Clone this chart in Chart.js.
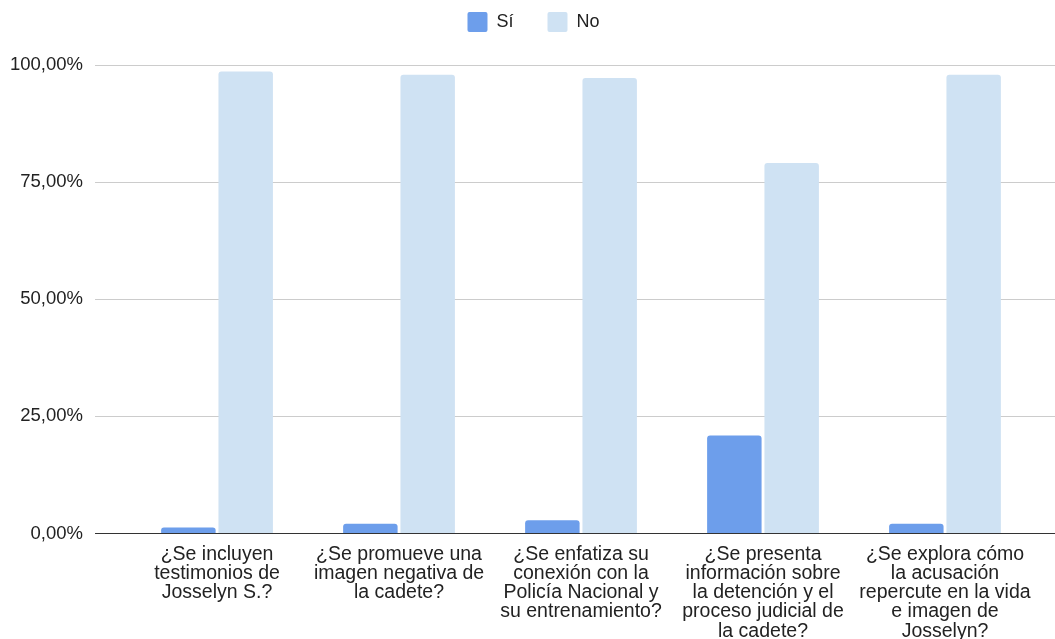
<!DOCTYPE html>
<html>
<head>
<meta charset="utf-8">
<script src="https://cdn.jsdelivr.net/npm/chart.js@4.4.1/dist/chart.umd.min.js"></script>
<style>
  html, body { margin: 0; padding: 0; background: #fff; }
  #wrap { width: 1055px; height: 639px; position: relative; }
</style>
</head>
<body>
<div id="wrap"><canvas id="chart"></canvas></div>
<script>
const categories = [
    ['¿Se incluyen', 'testimonios de', 'Josselyn S.?'],
    ['¿Se promueve una', 'imagen negativa de', 'la cadete?'],
    ['¿Se enfatiza su', 'conexión con la', 'Policía Nacional y', 'su entrenamiento?'],
    ['¿Se presenta', 'información sobre', 'la detención y el', 'proceso judicial de', 'la cadete?'],
    ['¿Se explora cómo', 'la acusación', 'repercute en la vida', 'e imagen de', 'Josselyn?']
];
const siValues = [1.3, 2.1, 2.8, 20.9, 2.1];
const noValues = [98.6, 97.9, 97.2, 79.1, 97.9];
const yTicks = [0, 25, 50, 75, 100];

const FONT = '"Liberation Sans", Arial, sans-serif';
const TEXT = '#222222';

function pct(v) {
    return v.toFixed(2).replace('.', ',') + '%';
}

function gridColor(ctx) {
    return ctx.tick && ctx.tick.value === 0 ? '#333333' : '#cccccc';
}

// extra room under the legend, and nudge it right like the original
const legendTweak = {
    id: 'legendTweak',
    beforeInit(chart) {
        const legend = chart.legend;
        const fit = legend.fit;
        legend.fit = function () {
            fit.call(this);
            this.height += 23;
        };
        const draw = legend.draw;
        legend.draw = function () {
            const c = this.ctx;
            c.save();
            c.translate(7, 0);
            draw.apply(this, arguments);
            c.restore();
        };
    }
};

Chart.defaults.font.family = FONT;
Chart.defaults.color = TEXT;

new Chart(document.getElementById('chart'), {
    type: 'bar',
    data: {
        labels: categories,
        datasets: [
            { label: 'Sí', data: siValues, backgroundColor: '#6d9eeb', borderRadius: 3, barPercentage: 0.95, categoryPercentage: 0.63 },
            { label: 'No', data: noValues, backgroundColor: '#cfe2f3', borderRadius: 3, barPercentage: 0.95, categoryPercentage: 0.63 }
        ]
    },
    options: {
        responsive: true,
        maintainAspectRatio: false,
        animation: false,
        layout: { padding: { top: -22, left: -2, right: 0, bottom: -5 } },
        plugins: {
            legend: {
                position: 'top',
                labels: {
                    boxWidth: 20,
                    boxHeight: 20,
                    padding: 34,
                    useBorderRadius: true,
                    borderRadius: 2,
                    font: { size: 18 },
                    color: TEXT
                }
            },
            tooltip: { enabled: false }
        },
        scales: {
            x: {
                grid: { display: false },
                border: { display: false },
                ticks: { maxRotation: 0, autoSkip: false, padding: 3, font: { size: 19.5, lineHeight: 0.99 }, color: TEXT }
            },
            y: {
                min: 0,
                max: 100,
                afterBuildTicks: axis => { axis.ticks = yTicks.map(v => ({ value: v })); },
                grid: { color: gridColor, lineWidth: 1, tickLength: 31 },
                border: { display: false },
                ticks: { padding: 12, font: { size: 18.5 }, color: TEXT, callback: v => pct(v) }
            },
            y2: {
                position: 'right',
                min: 0,
                max: 100,
                afterBuildTicks: axis => { axis.ticks = yTicks.map(v => ({ value: v })); },
                grid: { color: gridColor, drawOnChartArea: false, tickLength: 19 },
                border: { display: false },
                ticks: { display: false }
            }
        }
    },
    plugins: [legendTweak]
});
</script>
</body>
</html>
